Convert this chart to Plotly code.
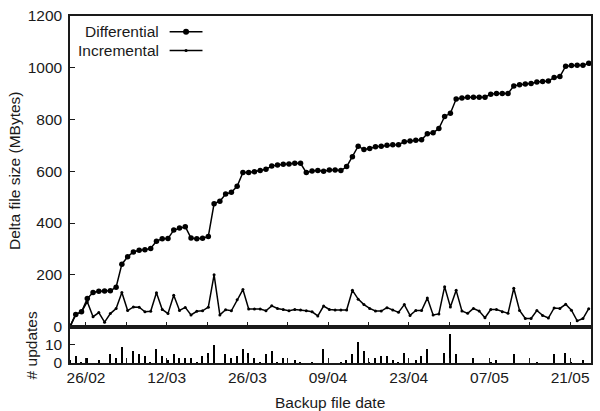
import pandas as pd
import plotly.graph_objects as go
from plotly.subplots import make_subplots

start_date = "2007-02-23 05:30"

differential = [0, 47, 57, 108, 132, 136, 137, 138, 152, 241,
                270, 288, 295, 297, 302, 330, 339, 340, 373, 381,
                386, 342, 339, 341, 348, 475, 484, 512, 519, 542,
                595, 595, 598, 603, 608, 620, 624, 627, 628, 631,
                631, 595, 601, 603, 600, 605, 605, 603, 618, 656,
                697, 684, 688, 695, 697, 701, 703, 703, 714, 717,
                720, 722, 745, 749, 765, 812, 824, 879, 883, 886,
                886, 886, 886, 898, 901, 901, 901, 930, 934, 937,
                939, 945, 947, 949, 962, 966, 1006, 1009, 1010, 1010,
                1017]

incremental = [0, 47, 57, 96, 38, 54, 17, 50, 70, 132,
               62, 76, 75, 57, 59, 131, 66, 50, 121, 62,
               74, 45, 59, 61, 75, 200, 45, 65, 61, 104,
               143, 68, 68, 68, 61, 80, 70, 66, 61, 66,
               64, 61, 57, 41, 79, 66, 64, 64, 64, 140,
               106, 85, 70, 60, 60, 73, 64, 55, 85, 43,
               62, 62, 110, 45, 49, 154, 76, 140, 60, 51,
               70, 60, 34, 66, 66, 57, 51, 148, 62, 31,
               31, 62, 43, 33, 72, 70, 86, 63, 22, 31,
               69]

updates = [2, 4, 1, 3, 0, 2, 0, 5, 3, 9,
           0, 7, 5, 4, 1, 8, 4, 2, 5, 3,
           3, 3, 1, 4, 6, 10, 0, 5, 3, 4,
           8, 6, 3, 1, 5, 7, 1, 3, 0, 2,
           1, 0, 1, 0, 8, 0, 0, 1, 2, 5,
           12, 7, 1, 3, 4, 4, 2, 1, 6, 0,
           2, 4, 8, 0, 0, 6, 16, 5, 0, 0,
           3, 0, 0, 1, 2, 0, 0, 5, 0, 0,
           0, 1, 0, 0, 5, 0, 6, 1, 0, 2,
           0]

dates = pd.date_range(start_date, periods=len(differential), freq="D")

x_range = ["2007-02-23 05:30", "2007-05-24 15:00"]
size_ticks = [0, 200, 400, 600, 800, 1000, 1200]
update_ticks = [0, 10]

FONT = "Liberation Sans, Arial, Helvetica, sans-serif"
FS = 15.5
INK = "#1a1a1a"

fig = make_subplots(rows=2, cols=1, shared_xaxes=False, vertical_spacing=0,
                    row_heights=[0.895, 0.105])

fig.add_trace(go.Scatter(x=dates, y=differential, mode="lines+markers",
                         name="Differential",
                         line=dict(color="black", width=1.5),
                         marker=dict(symbol="circle", size=5.5, color="black")),
              row=1, col=1)
fig.add_trace(go.Scatter(x=dates, y=incremental, mode="lines+markers",
                         name="Incremental",
                         line=dict(color="black", width=1.5),
                         marker=dict(symbol="circle", size=3, color="black")),
              row=1, col=1)
fig.add_trace(go.Bar(x=dates, y=updates, name="# updates",
                     marker=dict(color="black", line=dict(width=0)),
                     width=0.25 * 86400000),
              row=2, col=1)

day = 86400000
xcommon = dict(type="date", range=x_range, showline=True, linecolor=INK, linewidth=1.5,
               mirror=True, ticks="inside", ticklen=5, tickwidth=1.2, tickcolor=INK,
               tick0="2007-02-26", dtick=14 * day, tickformat="%d/%m",
               minor=dict(ticks="inside", ticklen=5, tickwidth=1.2, tickcolor=INK,
                          dtick=7 * day, tick0="2007-02-26"),
               showgrid=False, zeroline=False,
               tickfont=dict(family=FONT, size=FS, color=INK))

fig.update_xaxes(**xcommon, showticklabels=False, row=1, col=1)
fig.update_xaxes(**xcommon, showticklabels=True, row=2, col=1)

ycommon = dict(showline=True, linecolor=INK, linewidth=1.5, mirror=True,
               ticks="inside", ticklen=5, tickwidth=1.2, tickcolor=INK,
               showgrid=False, zeroline=False, ticklabelstandoff=3,
               tickfont=dict(family=FONT, size=FS, color=INK))
fig.update_yaxes(range=[0, 1200], tickvals=size_ticks, **ycommon, row=1, col=1)
fig.update_yaxes(range=[0, 20], tickvals=update_ticks, **ycommon, row=2, col=1)

# plot area geometry (px) for paper conversions
L, R, T, B = 70, 7, 11, 48
W, H = 600 - L - R, 411 - T - B


def px(x):
    return (x - L) / W


def py(y):
    return (411 - B - y) / H


annotations = [
    dict(text="Delta file size (MBytes)", x=px(15), y=py(168), textangle=-90),
    dict(text="# updates", x=px(31), y=py(345), textangle=-90),
    dict(text="Backup file date", x=px(331), y=py(403)),
    dict(text="Differential", x=px(161), y=py(27), xanchor="right"),
    dict(text="Incremental", x=px(161), y=py(46), xanchor="right"),
]
for a in annotations:
    a.setdefault("xanchor", "center")
    fig.add_annotation(xref="paper", yref="paper", showarrow=False, yanchor="middle",
                       font=dict(family=FONT, size=FS, color=INK), **a)

shapes = []
for row_y, msize in ((27, 3), (46, 1.6)):
    shapes.append(dict(type="line", xref="paper", yref="paper",
                       x0=px(170), x1=px(203), y0=py(row_y), y1=py(row_y),
                       line=dict(color="black", width=1.5)))
    shapes.append(dict(type="circle", xref="paper", yref="paper",
                       xsizemode="pixel", ysizemode="pixel",
                       xanchor=px(186.5), yanchor=py(row_y),
                       x0=-msize, x1=msize, y0=-msize, y1=msize,
                       fillcolor="black", line=dict(color="black", width=0)))
fig.update_layout(shapes=shapes)

fig.update_layout(width=600, height=411, margin=dict(l=L, r=R, t=T, b=B),
                  paper_bgcolor="white", plot_bgcolor="white", showlegend=False,
                  bargap=0, font=dict(family=FONT, size=FS, color=INK))

fig.write_html("out.html")
